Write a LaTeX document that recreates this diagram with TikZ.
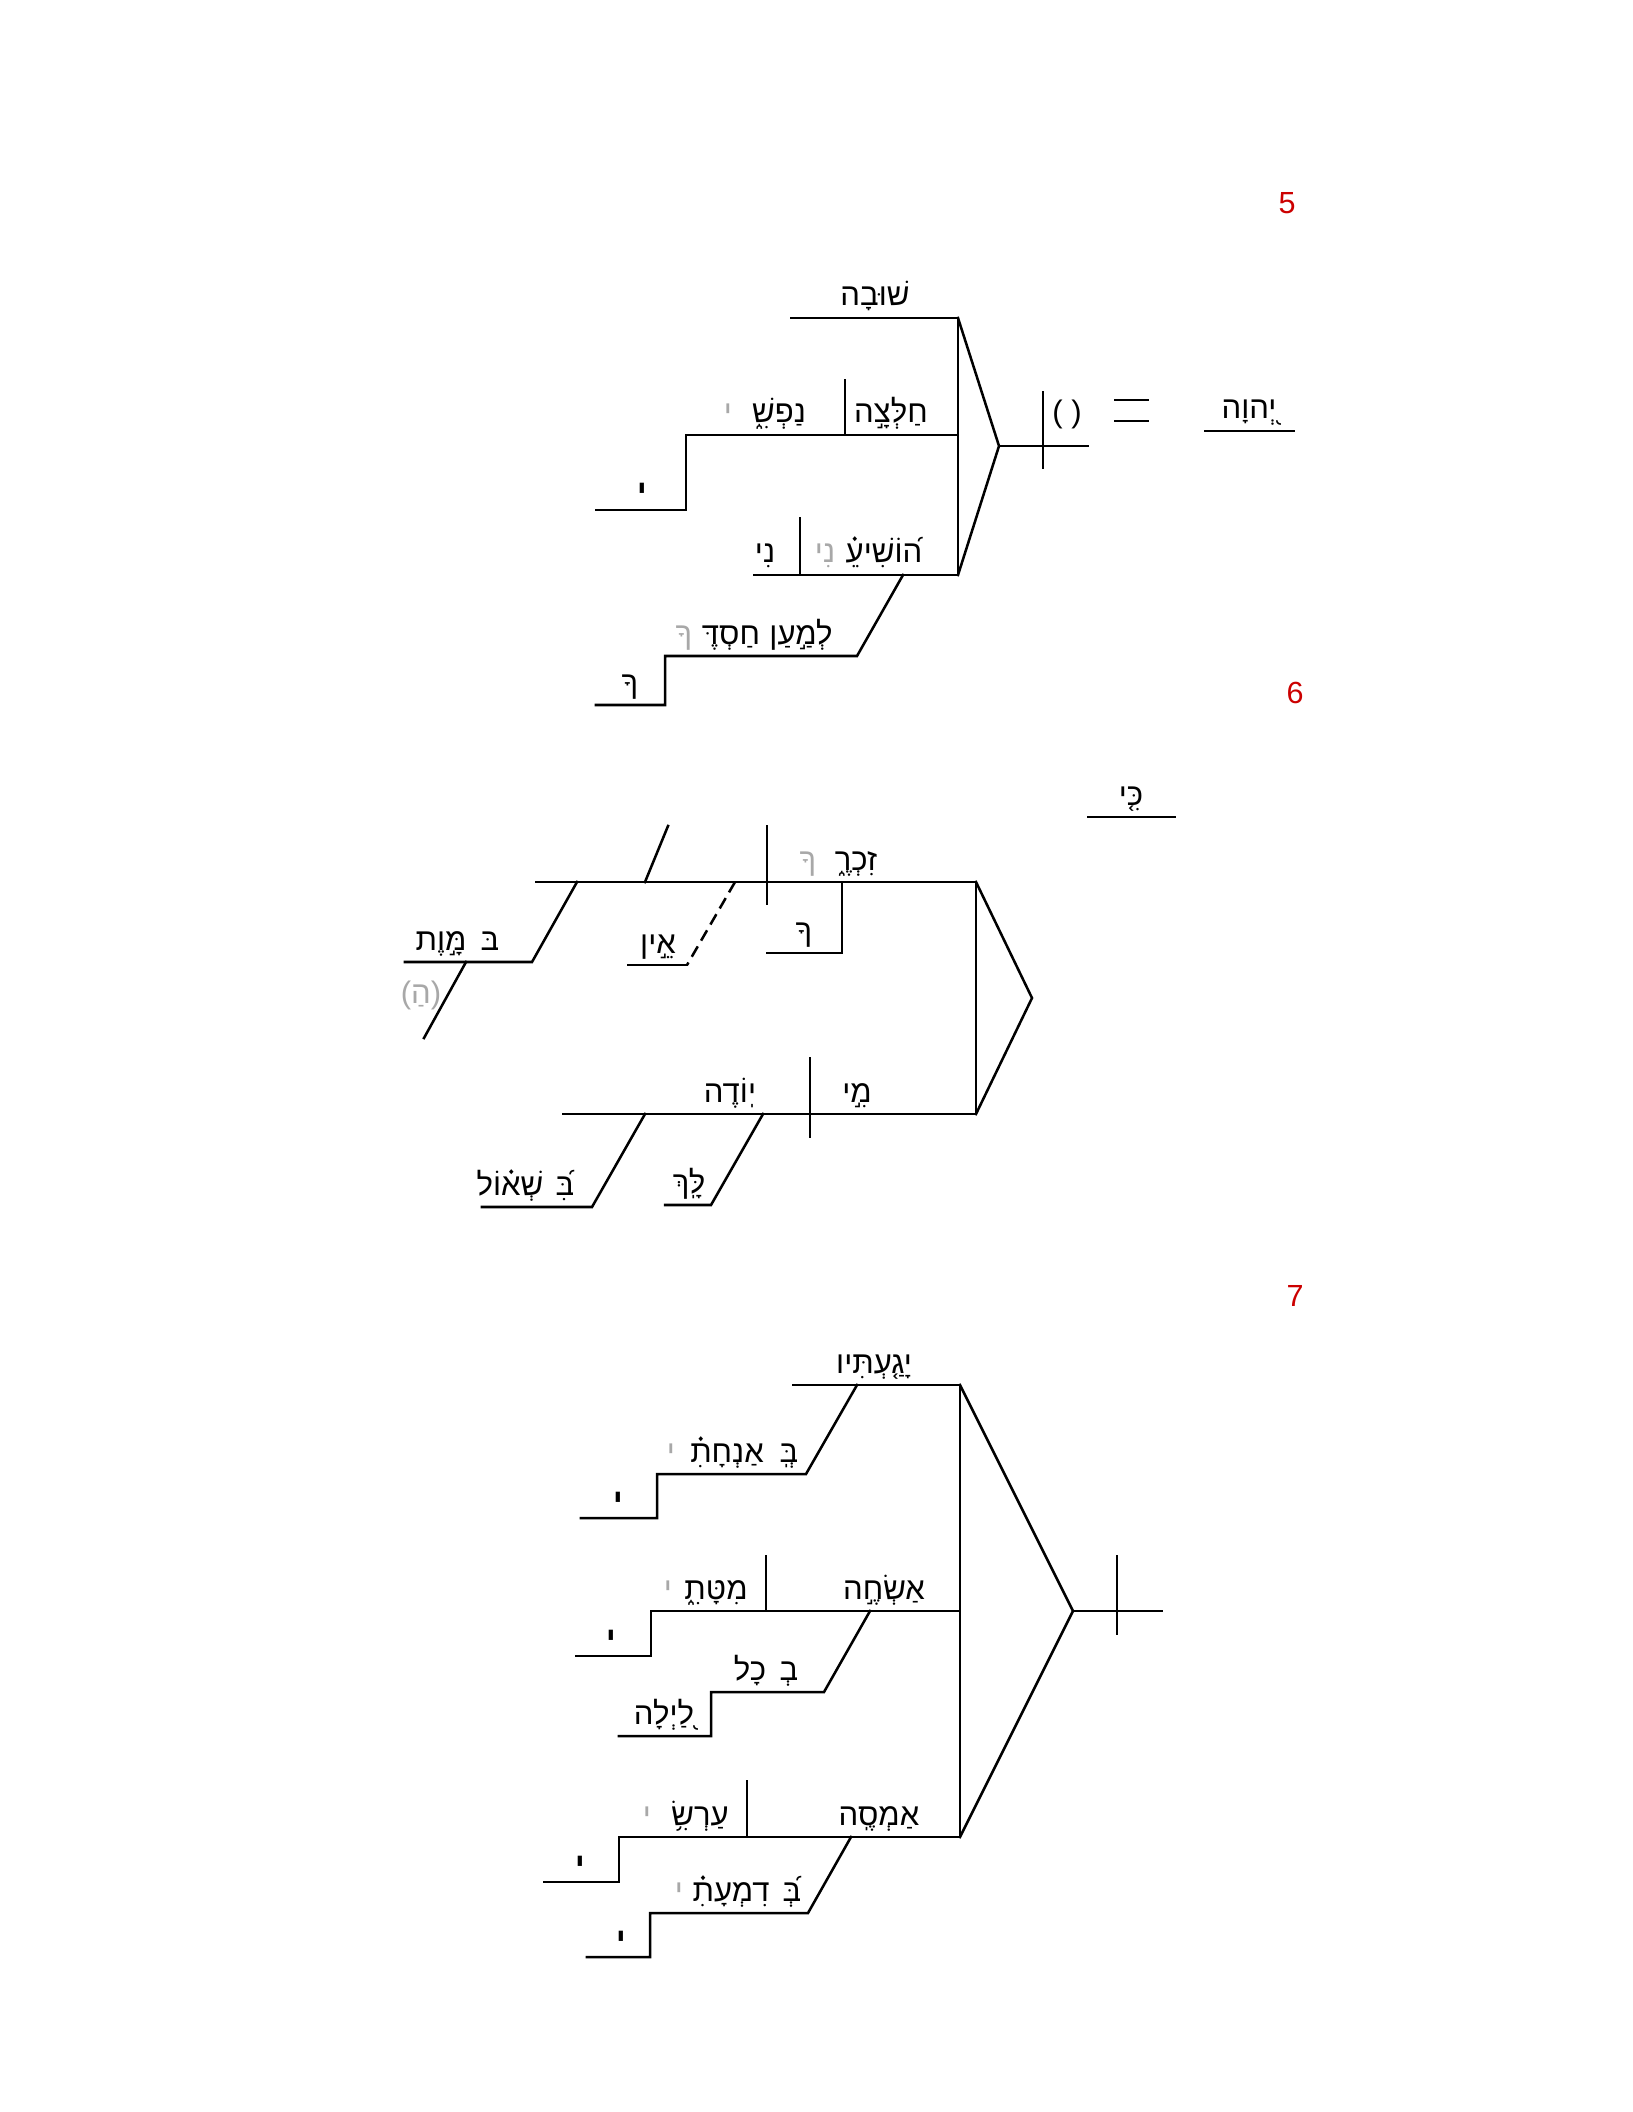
\documentclass[tikz,border=0pt]{standalone}
\usepackage{fontspec}
\setmainfont{Liberation Sans}
\newfontfamily\hebfont[Script=Hebrew]{Liberation Sans}
\TeXXeTstate=1
\newcommand{\hebtxt}[1]{{\hebfont\beginR #1\endR}}
\definecolor{numred}{HTML}{CC0000}
\definecolor{ghost}{HTML}{A8A8A8}
\begin{document}
\begin{tikzpicture}[x=0.0132292cm,y=-0.0132292cm,
  ln/.style={line width=0.95pt,line cap=rect},
  t/.style={anchor=base,inner sep=0pt,font=\hebfont\fontsize{11.7}{14}\selectfont},
  g/.style={t,text=ghost},
  sfx/.style={anchor=base,inner sep=0pt,font=\hebfont\bfseries\fontsize{12}{14}\selectfont},
  num/.style={anchor=center,inner sep=0pt,text=numred,font=\fontsize{11.5}{13}\selectfont}]
\useasboundingbox[fill=white] (0,0) rectangle (1632,2112);

% ================= 5 =================
\node[num] (n5) at (1287,203) {5};
\coordinate (a1) at (791,318);  \coordinate (a2) at (958,318);
\coordinate (b1) at (686,435);  \coordinate (b2) at (958,435);
\coordinate (bd1) at (845,380); \coordinate (bd2) at (845,435);
\coordinate (bs1) at (686,510); \coordinate (bs2) at (596,510);
\coordinate (c1) at (754,575);  \coordinate (c2) at (958,575);
\coordinate (cd1) at (800,518); \coordinate (cd2) at (800,575);
\coordinate (ca) at (903,575);  \coordinate (cb) at (857,656);
\coordinate (cc) at (665,656);  \coordinate (cdd) at (665,705);
\coordinate (ce) at (596,705);
\coordinate (p5) at (999,446);  \coordinate (p5r) at (1088,446);
\coordinate (x5a) at (1043,392); \coordinate (x5b) at (1043,468);
\coordinate (e1a) at (1115,400); \coordinate (e1b) at (1148,400);
\coordinate (e2a) at (1115,421); \coordinate (e2b) at (1148,421);
\coordinate (ya) at (1205,431); \coordinate (yb) at (1294,431);

\draw[ln] (a1) -- (a2);
\draw[ln] (bs2) -- (bs1) -- (b1) -- (b2);
\draw[ln] (bd1) -- (bd2);
\draw[ln] (c1) -- (c2);
\draw[ln] (cd1) -- (cd2);
\draw[ln] (ca) -- (cb) -- (cc) -- (cdd) -- (ce);
\draw[ln] (a2) -- (c2);
\draw[ln] (a2) -- (p5) -- (c2);
\draw[ln] (p5) -- (p5r);
\draw[ln] (x5a) -- (x5b);
\draw[ln] (e1a) -- (e1b);
\draw[ln] (e2a) -- (e2b);
\draw[ln] (ya) -- (yb);

\node[t] (w1) at (875,306) {\hebtxt{שׁוּבָה}};
\node[t] (w2) at (891,423) {\hebtxt{חַלְּצָ֣ה}};
\node[t] (w3) at (779,423) {\hebtxt{נַפְשִׁ֑}};
\node[g] (w3g) at (728,423) {\hebtxt{י}};
\node[sfx] (w4) at (642,503) {\hebtxt{י}};
\node[t] (w5) at (884,563) {\hebtxt{ה֝וֹשִׁיעֵ֗}};
\node[g] (w5g) at (825,563) {\hebtxt{נִי}};
\node[t] (w6) at (765,563) {\hebtxt{נִי}};
\node[t] (w7) at (801,644) {\hebtxt{לְמַ֣עַן}};
\node[t] (w8) at (731,644) {\hebtxt{חַסְדֶּ}};
\node[g] (w8g) at (684,644) {\hebtxt{ךָ}};
\node[t] (w9) at (630,693) {\hebtxt{ךָ}};
\node[t,font=\fontsize{11.7}{14}\selectfont] (w10) at (1067,423) {( )};
\node[t] (w11) at (1249,419) {\hebtxt{יְ֭הוָה}};

% ================= 6 =================
\node[num] (n6) at (1295,693) {6};
\coordinate (k1) at (1088,817); \coordinate (k2) at (1175,817);
\coordinate (m1) at (536,882);  \coordinate (m2) at (976,882);
\coordinate (sl1) at (668,826); \coordinate (sl2) at (645,882);
\coordinate (md1) at (767,826); \coordinate (md2) at (767,904);
\coordinate (h1) at (842,882);  \coordinate (h2) at (842,953); \coordinate (h3) at (767,953);
\coordinate (dd1) at (735,882); \coordinate (dd2) at (687,965); \coordinate (dd3) at (628,965);
\coordinate (q1) at (577,882);  \coordinate (q2) at (532,962);  \coordinate (q3) at (405,962);
\coordinate (r1) at (466,962);  \coordinate (r2) at (424,1038);
\coordinate (p6) at (1032,998);
\coordinate (l1) at (563,1114); \coordinate (l2) at (976,1114);
\coordinate (ld1) at (810,1058); \coordinate (ld2) at (810,1137);
\coordinate (u1) at (763,1114); \coordinate (u2) at (711,1205); \coordinate (u3) at (665,1205);
\coordinate (v1) at (645,1114); \coordinate (v2) at (592,1207); \coordinate (v3) at (482,1207);

\draw[ln] (k1) -- (k2);
\draw[ln] (m1) -- (m2);
\draw[ln] (sl1) -- (sl2);
\draw[ln] (md1) -- (md2);
\draw[ln] (h1) -- (h2) -- (h3);
\draw[ln,line cap=butt,dash pattern=on 4.5pt off 2.5pt] (dd1) -- (dd2);
\draw[ln] (dd2) -- (dd3);
\draw[ln] (q1) -- (q2) -- (q3);
\draw[ln] (r1) -- (r2);
\draw[ln] (m2) -- (l2);
\draw[ln] (m2) -- (p6) -- (l2);
\draw[ln] (l1) -- (l2);
\draw[ln] (ld1) -- (ld2);
\draw[ln] (u1) -- (u2) -- (u3);
\draw[ln] (v1) -- (v2) -- (v3);

\node[t] (s1) at (1131,805) {\hebtxt{כִּ֤י}};
\node[t] (s2) at (856,870) {\hebtxt{זִכְרֶ֑}};
\node[g] (s2g) at (808,870) {\hebtxt{ךָ}};
\node[t] (s3) at (804,941) {\hebtxt{ךָ}};
\node[t] (s4) at (658,953) {\hebtxt{אֵ֣ין}};
\node[t] (s5) at (490,950) {\hebtxt{בּ}};
\node[t] (s6) at (441,950) {\hebtxt{מָּ֣וֶת}};
\node[g,font=\fontsize{11.7}{14}\selectfont] (s7) at (421,1003) {(\hebtxt{הַ})};
\node[t] (s8) at (857,1102) {\hebtxt{מִ֣י}};
\node[t] (s9) at (730,1102) {\hebtxt{יֽוֹדֶה}};
\node[t] (s10) at (689,1193) {\hebtxt{לָּֽךְ}};
\node[t] (s11) at (565,1195) {\hebtxt{בִּ֝}};
\node[t] (s12) at (510,1195) {\hebtxt{שְׁא֗וֹל}};

% ================= 7 =================
\node[num] (n7) at (1295,1296) {7};
\coordinate (f1) at (793,1385); \coordinate (f2) at (960,1385);
\coordinate (fa) at (857,1385); \coordinate (fb) at (806,1474);
\coordinate (fc) at (657,1474); \coordinate (fd) at (657,1518); \coordinate (fe) at (581,1518);
\coordinate (o1) at (651,1611); \coordinate (o2) at (960,1611);
\coordinate (od1) at (766,1556); \coordinate (od2) at (766,1611);
\coordinate (os1) at (651,1656); \coordinate (os2) at (576,1656);
\coordinate (oa) at (870,1611); \coordinate (ob) at (824,1692);
\coordinate (oc) at (711,1692); \coordinate (odd) at (711,1736); \coordinate (oe) at (619,1736);
\coordinate (z1) at (619,1837); \coordinate (z2) at (960,1837);
\coordinate (zd1) at (747,1781); \coordinate (zd2) at (747,1837);
\coordinate (zs1) at (619,1882); \coordinate (zs2) at (544,1882);
\coordinate (za) at (851,1837); \coordinate (zb) at (808,1913);
\coordinate (zc) at (650,1913); \coordinate (zdd) at (650,1957); \coordinate (ze) at (587,1957);
\coordinate (p7) at (1073,1611); \coordinate (p7r) at (1162,1611);
\coordinate (x7a) at (1117,1556); \coordinate (x7b) at (1117,1634);

\draw[ln] (f1) -- (f2);
\draw[ln] (fa) -- (fb) -- (fc) -- (fd) -- (fe);
\draw[ln] (os2) -- (os1) -- (o1) -- (o2);
\draw[ln] (od1) -- (od2);
\draw[ln] (oa) -- (ob) -- (oc) -- (odd) -- (oe);
\draw[ln] (zs2) -- (zs1) -- (z1) -- (z2);
\draw[ln] (zd1) -- (zd2);
\draw[ln] (za) -- (zb) -- (zc) -- (zdd) -- (ze);
\draw[ln] (f2) -- (z2);
\draw[ln] (f2) -- (p7) -- (z2);
\draw[ln] (p7) -- (p7r);
\draw[ln] (x7a) -- (x7b);

\node[t] (y1) at (874,1373) {\hebtxt{יָגַ֤עְתִּיו}};
\node[t] (y2) at (789,1462) {\hebtxt{בְּֽ}};
\node[t] (y3) at (727,1462) {\hebtxt{אַנְחָתִ֗}};
\node[g] (y3g) at (671,1462) {\hebtxt{י}};
\node[sfx] (y4) at (618,1511) {\hebtxt{י}};
\node[t] (y5) at (884,1599) {\hebtxt{אַשְׂחֶ֣ה}};
\node[t] (y6) at (716,1599) {\hebtxt{מִטָּתִ֑}};
\node[g] (y6g) at (668,1599) {\hebtxt{י}};
\node[sfx] (y7) at (611,1649) {\hebtxt{י}};
\node[t] (y8) at (789,1680) {\hebtxt{בְ}};
\node[t] (y9) at (750,1680) {\hebtxt{כָל}};
\node[t] (y10) at (664,1724) {\hebtxt{לַ֭יְלָה}};
\node[t] (y11) at (879,1825) {\hebtxt{אַמְסֶֽה}};
\node[t] (y12) at (700,1825) {\hebtxt{עַרְשִׂ֥}};
\node[g] (y12g) at (647,1825) {\hebtxt{י}};
\node[sfx] (y13) at (580,1875) {\hebtxt{י}};
\node[t] (y14) at (792,1901) {\hebtxt{בְּ֝}};
\node[t] (y15) at (731,1901) {\hebtxt{דִמְעָתִ֗}};
\node[g] (y15g) at (679,1901) {\hebtxt{י}};
\node[sfx] (y16) at (621,1950) {\hebtxt{י}};
\end{tikzpicture}
\end{document}
